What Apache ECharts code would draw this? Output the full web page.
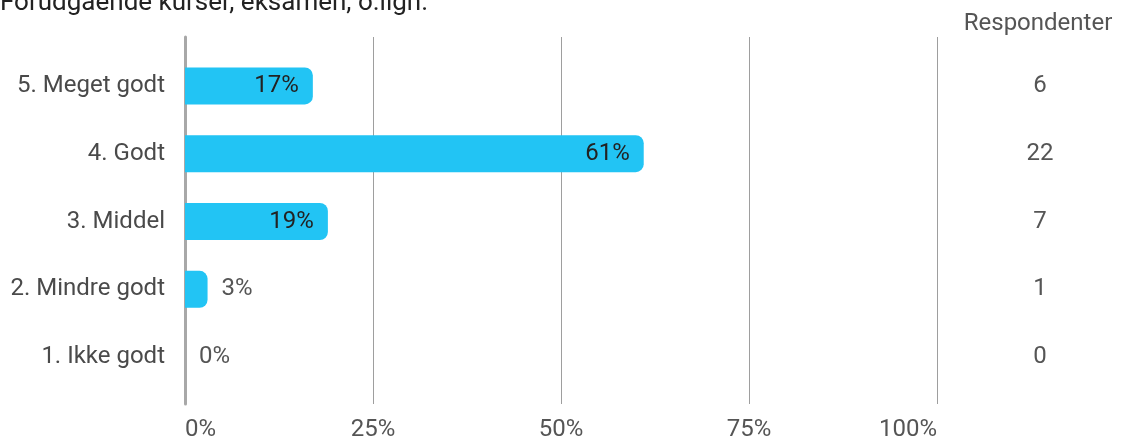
<!DOCTYPE html>
<html><head><meta charset="utf-8">
<script src="https://cdn.jsdelivr.net/npm/echarts@6/dist/echarts.min.js"></script>
<style>html,body{margin:0;padding:0;background:#fff}#c{width:1130px;height:442px}</style>
</head><body><div id="c"></div>
<script>
const title = 'Forudgående kurser, eksamen, o.lign.';
const categories = ['5. Meget godt', '4. Godt', '3. Middel', '2. Mindre godt', '1. Ikke godt'];
const percents = [17, 61, 19, 3, 0];
const respondents = [6, 22, 7, 1, 0];
const xTicks = [0, 25, 50, 75, 100];

const FONT = 'Roboto';
const FS = 24;
const chart = echarts.init(document.getElementById('c'));
const L = 185, W = 752;
chart.setOption({
  animation: false,
  textStyle: { fontFamily: FONT },
  graphic: [
    { type: 'text', left: 0, top: -10, style: { text: title, font: '26px Roboto', fill: '#222' } },
    { type: 'text', x: 1038, y: 24, style: { text: 'Respondenter', font: FS + 'px Roboto', fill: '#555', align: 'center', verticalAlign: 'middle' } }
  ],
  grid: [
    { left: L, width: W, top: 37, height: 368 },
    { left: L, width: W, top: 52, height: 339 }
  ],
  xAxis: [
    { gridIndex: 0, type: 'value', min: 0, max: 100, interval: 25,
      axisLine: { show: false }, axisTick: { show: false },
      splitLine: { show: true, lineStyle: { color: '#9e9e9e', width: 1 } },
      axisLabel: { formatter: v => v + '%', color: '#555', fontSize: FS, fontFamily: FONT, margin: 14,
                   alignMinLabel: 'left', alignMaxLabel: 'right' } },
    { gridIndex: 1, type: 'value', min: 0, max: 100, show: false }
  ],
  yAxis: [
    { gridIndex: 0, type: 'category', data: categories, inverse: true,
      axisLine: { show: true, lineStyle: { color: '#a8a8a8', width: 3 } },
      axisTick: { show: false }, axisLabel: { show: false }, splitLine: { show: false } },
    { gridIndex: 1, type: 'category', data: categories, inverse: true,
      axisLine: { show: false }, axisTick: { show: false },
      axisLabel: { color: '#4a4a4a', fontSize: FS, fontFamily: FONT, margin: 20 } },
    { gridIndex: 1, type: 'category', data: respondents.map(String), inverse: true, position: 'right',
      axisLine: { show: false }, axisTick: { show: false },
      axisLabel: { color: '#555', fontSize: FS, fontFamily: FONT, margin: 103, align: 'center' } }
  ],
  series: [{
    type: 'bar', xAxisIndex: 1, yAxisIndex: 1,
    data: percents.map(p => ({
      value: p,
      label: p >= 10
        ? { show: true, position: 'insideRight', distance: 14, color: '#222' }
        : { show: true, position: 'right', distance: 14, color: '#555' }
    })),
    barWidth: 37,
    itemStyle: { color: '#22c4f4', borderRadius: [0, 8, 8, 0] },
    label: { show: true, formatter: p => p.value + '%', fontSize: FS, fontFamily: FONT }
  }]
});
</script></body></html>
